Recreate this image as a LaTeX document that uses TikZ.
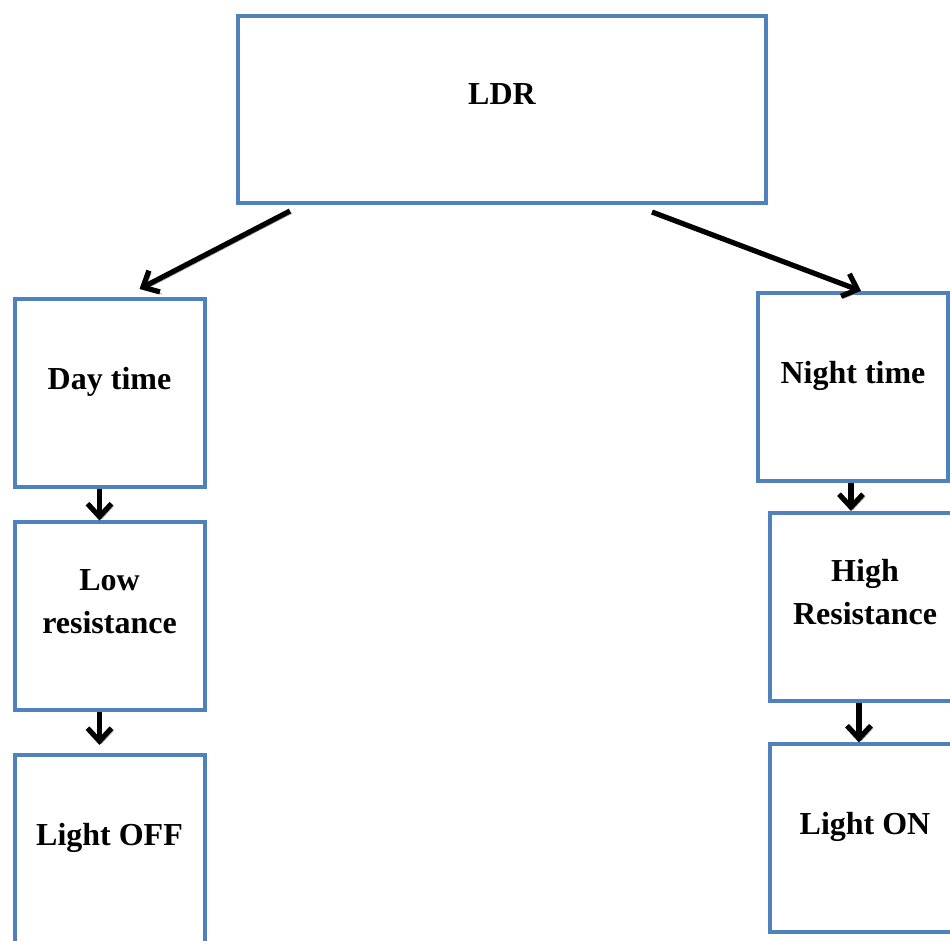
\documentclass[tikz,border=0pt]{standalone}
\usepackage{fontspec}
\setmainfont{Liberation Serif}
\usepackage{tikz}
\usetikzlibrary{arrows.meta,positioning,calc}
\definecolor{boxblue}{HTML}{4F81BD}
\newcommand{\lowpad}{\rule[-15pt]{0pt}{0pt}}

\begin{document}
\begin{tikzpicture}[x=0.5pt, y=-0.5pt,
    stage/.style={rectangle, draw=boxblue, line width=2pt, fill=white,
        align=center, minimum width=95pt, minimum height=94pt,
        font=\fontsize{16}{21.5}\selectfont\bfseries,
        execute at end node=\lowpad},
    sensor/.style={stage, minimum width=264pt, minimum height=93.5pt},
    line/.style={draw, line width=2.6pt,
        -{Straight Barb[length=6.5pt,width=12pt]},
        preaction={draw=black!35,
            transform canvas={xshift=1.1pt,yshift=-1.1pt}}}]

    \useasboundingbox (0,0) rectangle (950,941);
    \clip (0,0) rectangle (950,941);

    % ====== Sensor ======
    \node [sensor] (ldr) at (502,109.5) {LDR};

    % ====== Day branch ======
    \node [stage] (day) at (109.5,393)   {Day time};
    \node [stage] (low) at (109.5,616.5) {Low\\resistance};
    \node [stage] (off) at (109.5,849)   {Light OFF};

    % ====== Night branch ======
    \node [stage] (night) at (853,387)   {Night time};
    \node [stage] (high)  at (865,607)   {High\\Resistance};
    \node [stage] (on)    at (865,838.5) {Light ON};

    % ====== Lines ======
    \path [line] ([xshift=27pt,yshift=-3pt]ldr.south west)
        -- ([xshift=63.5pt,yshift=4pt]day.north west);
    \path [line] ([xshift=208pt,yshift=-3.5pt]ldr.south west)
        -- ([xshift=52.5pt]night.north west);
    \path [line] ([xshift=-5pt]day.south) -- ([xshift=-5pt]low.north);
    \path [line] ([xshift=-5pt]low.south) -- ([xshift=-5pt,yshift=4pt]off.north);
    \path [line] ([xshift=-1pt]night.south) -- ([xshift=-1pt]night.south |- high.north);
    \path [line] ([xshift=-3pt]high.south) -- ([xshift=-3pt]on.north);
\end{tikzpicture}
\end{document}
